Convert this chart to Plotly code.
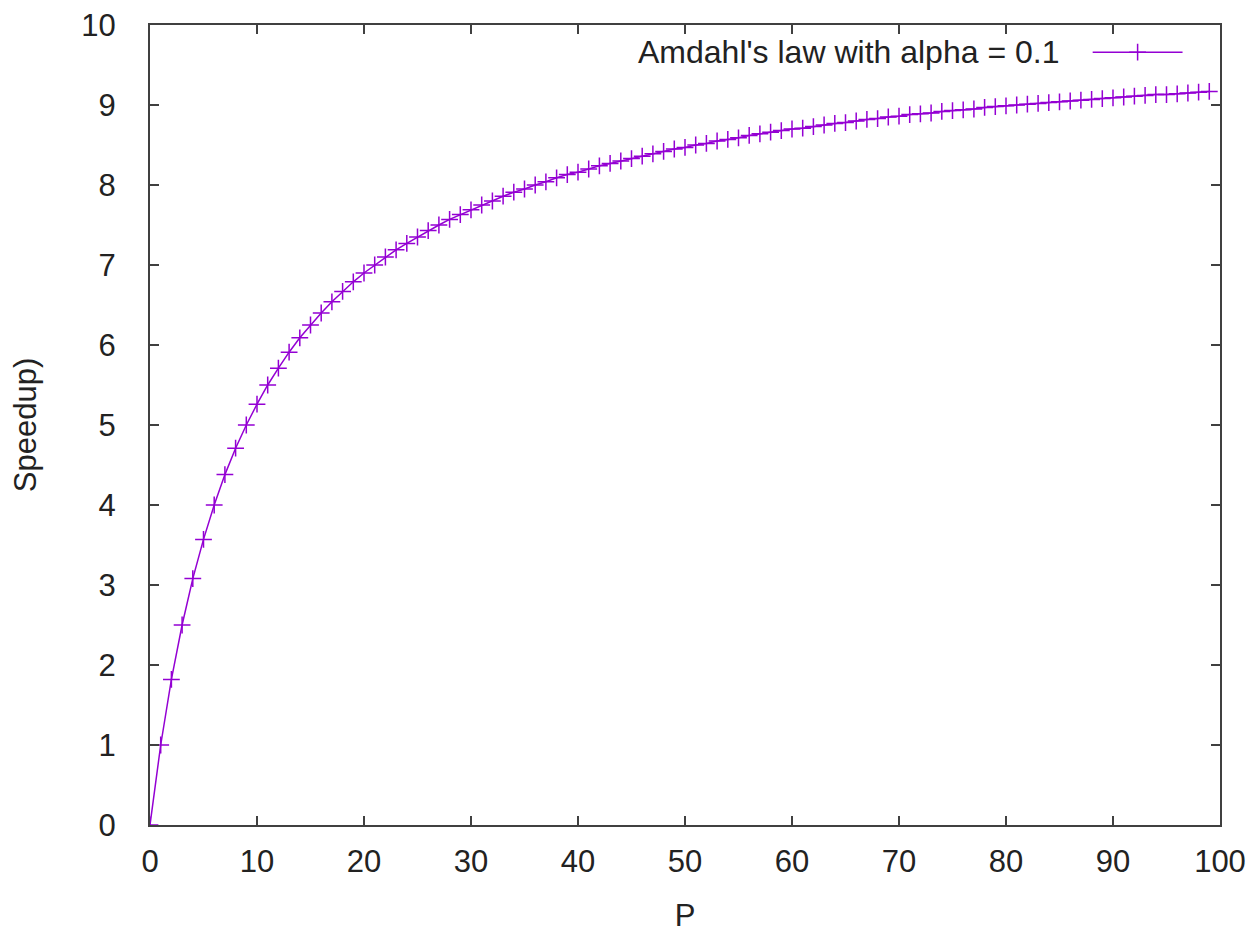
import plotly.graph_objects as go

# Data: processor count P and speedup
P = list(range(0, 100))
speedup = [
    0.00, 1.00, 1.82, 2.50, 3.08, 3.57, 4.00, 4.38, 4.71, 5.00,
    5.26, 5.50, 5.71, 5.91, 6.09, 6.25, 6.40, 6.54, 6.67, 6.79,
    6.90, 7.00, 7.10, 7.19, 7.27, 7.35, 7.43, 7.50, 7.57, 7.63,
    7.69, 7.75, 7.80, 7.86, 7.91, 7.95, 8.00, 8.04, 8.09, 8.13,
    8.16, 8.20, 8.24, 8.27, 8.30, 8.33, 8.36, 8.39, 8.42, 8.45,
    8.47, 8.50, 8.52, 8.55, 8.57, 8.59, 8.62, 8.64, 8.66, 8.68,
    8.70, 8.71, 8.73, 8.75, 8.77, 8.78, 8.80, 8.82, 8.83, 8.85,
    8.86, 8.88, 8.89, 8.90, 8.92, 8.93, 8.94, 8.95, 8.97, 8.98,
    8.99, 9.00, 9.01, 9.02, 9.03, 9.04, 9.05, 9.06, 9.07, 9.08,
    9.09, 9.10, 9.11, 9.12, 9.13, 9.13, 9.14, 9.15, 9.16, 9.17,
]
series_name = "Amdahl's law with alpha = 0.1"
x_ticks = [0, 10, 20, 30, 40, 50, 60, 70, 80, 90, 100]
y_ticks = [0, 1, 2, 3, 4, 5, 6, 7, 8, 9, 10]

COLOR = "#9400D3"
FONT = "Liberation Sans"
FSIZE = 31
TXT = "#222222"

fig = go.Figure()
fig.add_trace(go.Scatter(
    x=P, y=speedup, mode="lines+markers", name=series_name,
    line=dict(color=COLOR, width=1.5),
    marker=dict(symbol="cross-thin-open", size=12, color=COLOR,
                line=dict(color=COLOR, width=1.5)),
    showlegend=False,
))

axis_common = dict(
    showline=True, linecolor="#404040", linewidth=2, mirror="ticks",
    ticks="inside", ticklen=9, tickwidth=2, tickcolor="#404040",
    showgrid=False, zeroline=False, automargin=False,
    ticklabeloverflow="allow",
    tickfont=dict(family=FONT, size=FSIZE, color=TXT),
)

fig.update_xaxes(range=[0, 100], tickvals=x_ticks, ticklabelstandoff=8,
                 title=dict(text="P", font=dict(family=FONT, size=FSIZE, color=TXT), standoff=27),
                 **axis_common)
fig.update_yaxes(range=[0, 10], tickvals=y_ticks, ticklabelstandoff=26,
                 title=dict(text="Speedup)", font=dict(family=FONT, size=FSIZE, color=TXT), standoff=42),
                 **axis_common)

# Legend drawn gnuplot-style: text then sample to the right
fig.add_annotation(xref="paper", yref="paper", x=0.851, y=0.966, xanchor="right", yanchor="middle",
                   text=series_name, showarrow=False,
                   font=dict(family=FONT, size=32, color=TXT))
fig.add_shape(type="line", xref="paper", yref="paper", x0=0.881, x1=0.965, y0=0.966, y1=0.966,
              line=dict(color=COLOR, width=1.5))
fig.add_trace(go.Scatter(
    x=[0.923], y=[0.966], xaxis="x2", yaxis="y2", mode="markers",
    marker=dict(symbol="cross-thin-open", size=12, color=COLOR, line=dict(color=COLOR, width=1.5)),
    showlegend=False, hoverinfo="skip",
))
fig.update_layout(
    xaxis2=dict(range=[0, 1], overlaying="x", visible=False),
    yaxis2=dict(range=[0, 1], overlaying="y", visible=False),
    width=1246, height=925,
    margin=dict(l=142, r=34, t=17, b=108, autoexpand=False),
    plot_bgcolor="white", paper_bgcolor="white",
    font=dict(family=FONT, size=FSIZE, color=TXT),
)

fig.write_html("out.html")
